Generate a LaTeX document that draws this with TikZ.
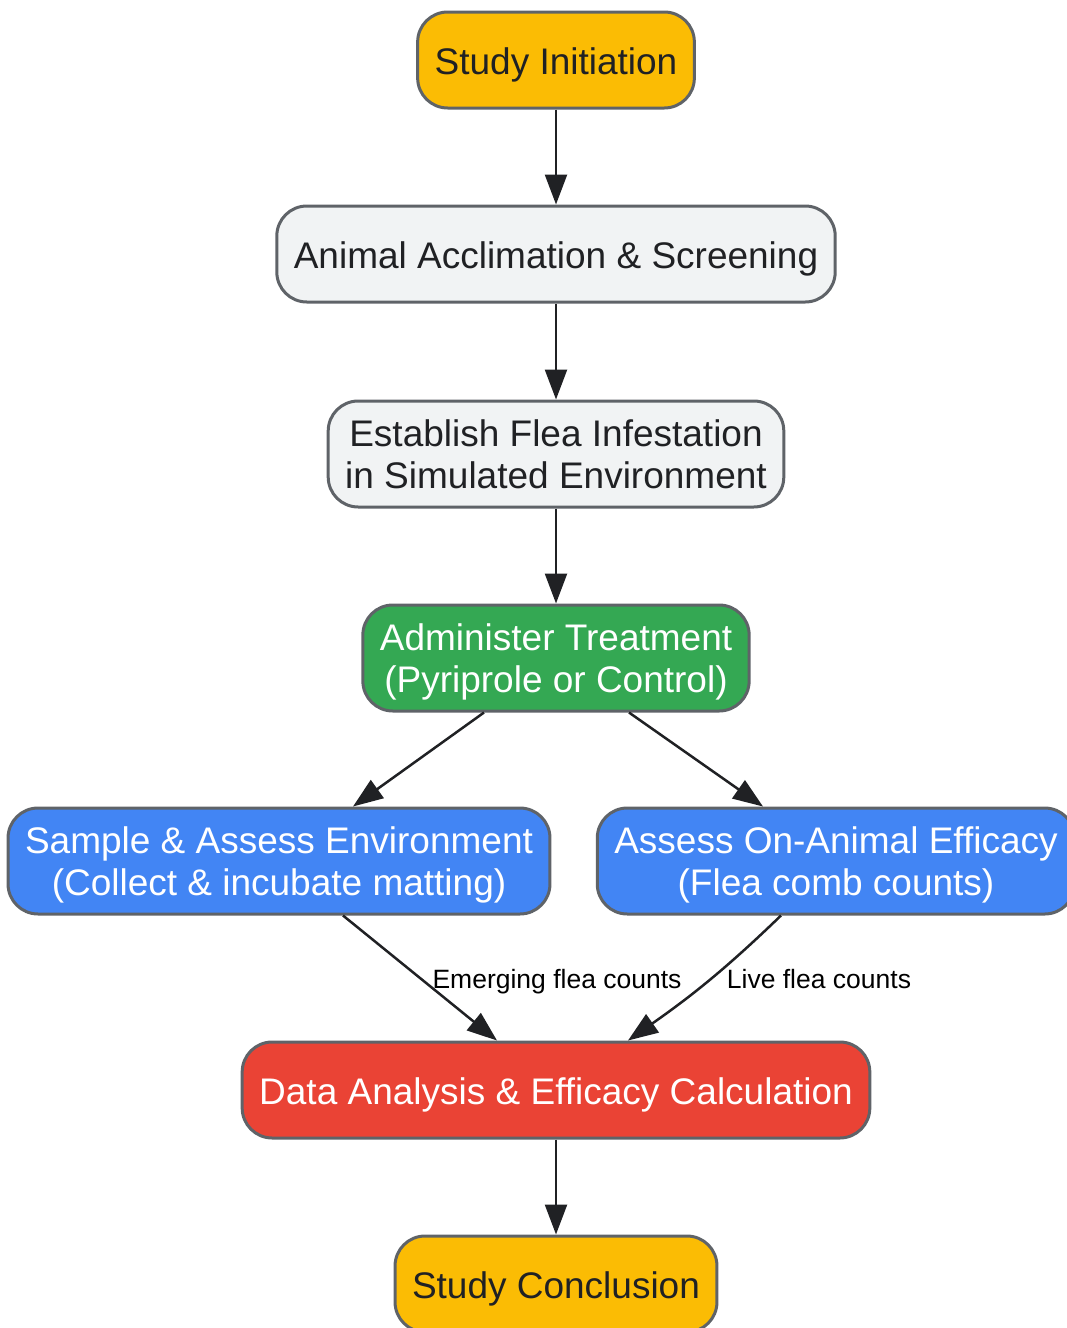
\documentclass[tikz,border=0pt]{standalone}
\usepackage{fontspec}
\setmainfont{Liberation Sans}
\usetikzlibrary{arrows.meta}
\definecolor{edgegray}{HTML}{5F6368}
\definecolor{inkdark}{HTML}{202124}
\definecolor{gyellow}{HTML}{FBBC04}
\definecolor{glight}{HTML}{F1F3F4}
\definecolor{ggreen}{HTML}{34A853}
\definecolor{gblue}{HTML}{4285F4}
\definecolor{gred}{HTML}{EA4335}
\def\flow{\draw[flowarrow]}

\begin{document}
\begin{tikzpicture}[x=1pt,y=-1pt,
    flowbox/.style={draw=edgegray, line width=3pt, rounded corners=30pt, align=center,
        inner xsep=17pt, inner ysep=14pt, minimum height=96pt,
        font=\fontsize{37}{42}\selectfont, text=inkdark,
        execute at begin node={\rule{0pt}{36pt}}},
    twoline/.style={minimum height=106pt, text depth=0pt},
    endbox/.style={flowbox, fill=gyellow},
    stepbox/.style={flowbox, fill=glight},
    treatbox/.style={flowbox, twoline, fill=ggreen, text=white},
    checkbox/.style={flowbox, twoline, fill=gblue, text=white},
    calcbox/.style={flowbox, fill=gred, text=white},
    flowarrow/.style={draw=inkdark, line width=2.5pt, -{Triangle[length=30pt,width=22pt]}},
    edgelabel/.style={font=\fontsize{26.5}{30}\selectfont, text=black, inner sep=0pt, anchor=base}]
    \useasboundingbox (0,0) rectangle (1067,1328);
    \node[endbox]           (init)     at (556,60)   {Study Initiation};
    \node[stepbox]          (acclim)   at (556,254)  {Animal Acclimation \& Screening};
    \node[stepbox,twoline]  (infest)   at (556,454)  {Establish Flea Infestation\\in Simulated Environment};
    \node[treatbox]         (treat)    at (556,658)  {Administer Treatment\\(Pyriprole or Control)};
    \node[checkbox]         (environ)  at (279,861)  {Sample \& Assess Environment\\(Collect \& incubate matting)};
    \node[checkbox]         (onanimal) at (836,861)  {Assess On-Animal Efficacy\\(Flea comb counts)};
    \node[calcbox]          (analysis) at (556,1090) {Data Analysis \& Efficacy Calculation};
    \node[endbox]           (finish)   at (556,1284) {Study Conclusion};
    % connectors
    \flow (init) -- (acclim);
    \flow (acclim) -- (infest);
    \flow (infest) -- (treat);
    \flow ([xshift=-72pt]treat.south) -- ([xshift=74pt]environ.north);
    \flow ([xshift=73pt]treat.south) -- ([xshift=-73pt]onanimal.north);
    \flow ([xshift=64pt]environ.south) -- ([xshift=-59pt]analysis.north);
    \flow ([xshift=-55pt]onanimal.south) to[out=-136,in=35] ([xshift=72pt]analysis.north);
    \flow (analysis) -- (finish);
    \node[edgelabel] (emerging) at (557,988) {Emerging flea counts};
    \node[edgelabel] (live)     at (819,988) {Live flea counts};
\end{tikzpicture}
\end{document}
